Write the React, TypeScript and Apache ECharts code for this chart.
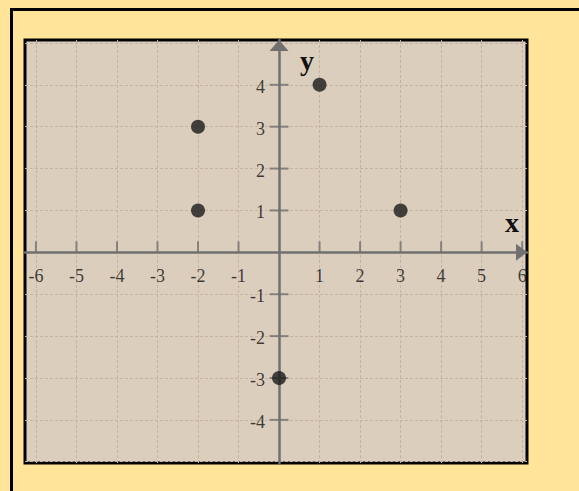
import React, { useEffect, useRef } from "react";
import * as echarts from "echarts";

// Plotted points (x, y)
const pointsX = [-2, -2, 1, 3, 0];
const pointsY = [3, 1, 4, 1, -3];

// Tick marks / tick labels shown on each axis
const xTickValues = [-6, -5, -4, -3, -2, -1, 1, 2, 3, 4, 5, 6];
const yTickValues = [-4, -3, -2, -1, 1, 2, 3, 4];

// Axis extents (the visible window of the coordinate plane)
const xMin = -6.27;
const xMax = 6.12;
const yMin = -5.03;
const yMax = 5.07;

const SERIF = "'Liberation Serif', 'DejaVu Serif', serif";
const AXIS_GRAY = "#707070";
const GRID_COLOR = "#c2b3a2";

export default function App() {
  const ref = useRef<HTMLDivElement>(null);

  useEffect(() => {
    if (!ref.current) return;
    const chart = echarts.init(ref.current, null, { renderer: "svg" });

    const points = pointsX.map((x, i) => [x, pointsY[i]]);
    const xTicks = xTickValues.map((x) => [x, 0]);
    const yTicks = yTickValues.map((y) => [0, y]);

    const hiddenAxisParts = {
      axisTick: { show: false },
      axisLabel: { show: false },
      splitLine: {
        show: true,
        showMinLine: false,
        showMaxLine: false,
        lineStyle: { color: GRID_COLOR, width: 1, type: [3, 2] },
      },
    };

    const tickLabelStyle = {
      show: true,
      position: "inside",
      verticalAlign: "middle",
      fontFamily: SERIF,
      fontSize: 18,
      color: "#111",
      textBorderWidth: 0,
      textBorderColor: "transparent",
      textShadowBlur: 0,
    };

    chart.setOption({
      animation: false,
      backgroundColor: "#FFE49A",
      grid: {
        left: 25,
        right: 52,
        top: 40,
        bottom: 28,
        show: true,
        backgroundColor: "#DCCEBD",
        borderColor: "#000",
        borderWidth: 3,
      },
      xAxis: {
        type: "value",
        min: xMin,
        max: xMax,
        minInterval: 1,
        maxInterval: 1,
        splitNumber: 12,
        axisLine: {
          show: true,
          onZero: true,
          symbol: ["none", "triangle"],
          symbolSize: [17, 11],
          symbolOffset: [0, -5.5],
          lineStyle: { color: AXIS_GRAY, width: 2.5 },
        },
        ...hiddenAxisParts,
      },
      yAxis: {
        type: "value",
        min: yMin,
        max: yMax,
        minInterval: 1,
        maxInterval: 1,
        splitNumber: 10,
        axisLine: {
          show: true,
          onZero: true,
          symbol: ["none", "triangle"],
          symbolSize: [19, 11],
          symbolOffset: [0, -5.5],
          lineStyle: { color: AXIS_GRAY, width: 2.5 },
        },
        ...hiddenAxisParts,
      },
      graphic: [
        {
          type: "rect",
          left: 9,
          top: 7,
          shape: { width: 640, height: 560 },
          style: { fill: "none", stroke: "#000", lineWidth: 3 },
          silent: true,
          z: -10,
        },
        {
          type: "text",
          x: 307,
          y: 60,
          style: {
            text: "y",
            font: `bold 28px ${SERIF}`,
            fill: "#111",
            align: "center",
            verticalAlign: "middle",
          },
          z: 10,
        },
        {
          type: "text",
          x: 512,
          y: 222,
          style: {
            text: "x",
            font: `bold 28px ${SERIF}`,
            fill: "#111",
            align: "center",
            verticalAlign: "middle",
          },
          z: 10,
        },
      ],
      series: [
        {
          name: "xTicks",
          type: "scatter",
          data: xTicks,
          symbol: "rect",
          symbolSize: [2, 11],
          symbolOffset: [0, -5.5],
          itemStyle: { color: AXIS_GRAY },
          label: {
            ...tickLabelStyle,
            offset: [0, 29],
            align: "center",
            formatter: (p: any) => String(p.value[0]),
          },
          silent: true,
          z: 3,
        },
        {
          name: "yTicks",
          type: "scatter",
          data: yTicks,
          symbol: "rect",
          symbolSize: [19, 2],
          itemStyle: { color: AXIS_GRAY },
          label: {
            ...tickLabelStyle,
            offset: [-14, 2],
            align: "right",
            formatter: (p: any) => String(p.value[1]),
          },
          silent: true,
          z: 3,
        },
        {
          name: "points",
          type: "scatter",
          data: points,
          symbol: "circle",
          symbolSize: 14,
          itemStyle: { color: "#1a1a1a" },
          z: 5,
        },
      ],
    });

    return () => chart.dispose();
  }, []);

  return (
    <div
      ref={ref}
      style={{ position: "absolute", left: 0, top: 0, width: 579, height: 491 }}
    />
  );
}
